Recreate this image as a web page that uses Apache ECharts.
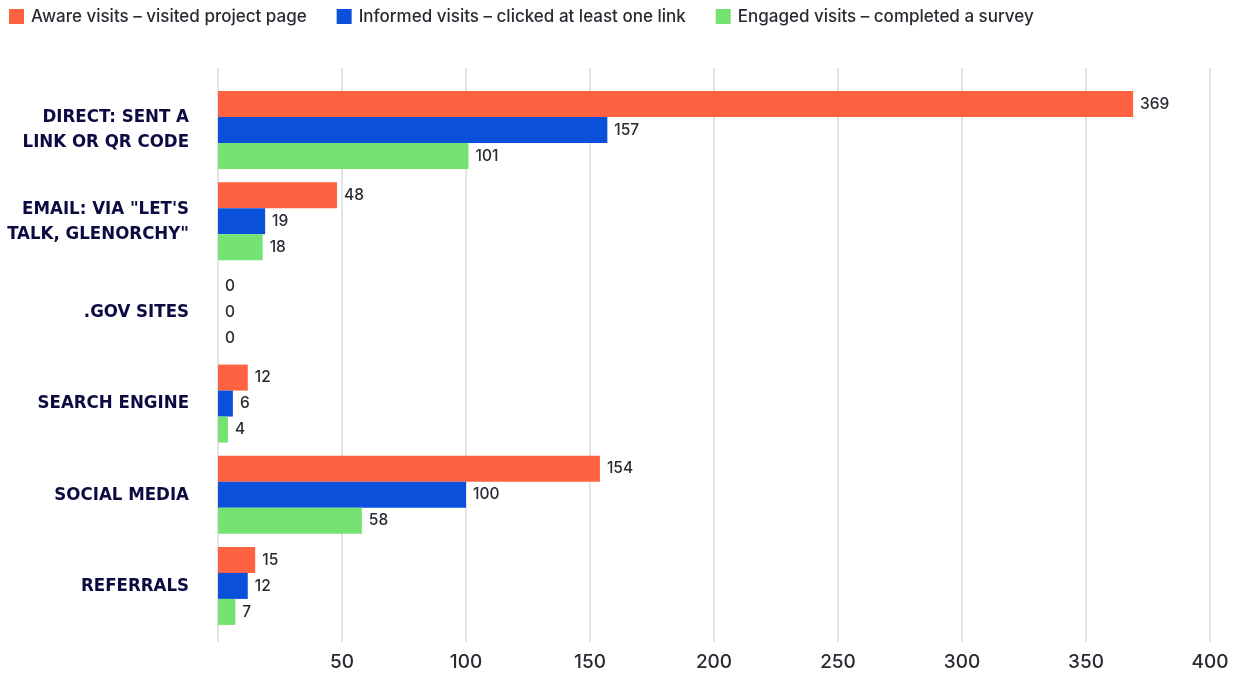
<!DOCTYPE html>
<html>
<head>
<meta charset="utf-8">
<script src="https://cdn.jsdelivr.net/npm/echarts@6/dist/echarts.min.js"></script>
<style>
  html, body { margin: 0; padding: 0; background: #ffffff; }
  #chart { width: 1236px; height: 675px; }
</style>
</head>
<body>
<div id="chart"></div>
<script>
// Traffic sources and the visits they produced
const categories = [
  'DIRECT: SENT A\nLINK OR QR CODE',
  'EMAIL: VIA "LET\'S\nTALK, GLENORCHY"',
  '.GOV SITES',
  'SEARCH ENGINE',
  'SOCIAL MEDIA',
  'REFERRALS'
];
const seriesNames = [
  'Aware visits – visited project page',
  'Informed visits – clicked at least one link',
  'Engaged visits – completed a survey'
];
const awareVisits = [369, 48, 0, 12, 154, 15];
const informedVisits = [157, 19, 0, 6, 100, 12];
const engagedVisits = [101, 18, 0, 4, 58, 7];
const xTicks = [0, 50, 100, 150, 200, 250, 300, 350, 400];

const colors = ['#FF6240', '#0A50DB', '#74E371'];
const textFont = 'Inter, Roboto, "Noto Sans", sans-serif';
const labelFont = '"DejaVu Sans Condensed", "Liberation Sans Narrow", sans-serif';

const chart = echarts.init(document.getElementById('chart'), null, { renderer: 'canvas' });

function barSeries(name, data, color) {
  return {
    name: name,
    type: 'bar',
    xAxisIndex: 1,
    yAxisIndex: 1,
    data: data,
    barWidth: 26,
    barGap: '0%',
    itemStyle: { color: color },
    label: {
      show: true,
      position: 'right',
      distance: 7,
      color: '#2a2a33',
      fontSize: 15.5,
      fontWeight: 500,
      fontFamily: textFont
    },
    emphasis: { disabled: true }
  };
}

chart.setOption({
  animation: false,
  color: colors,
  legend: {
    left: 9,
    top: 8,
    padding: 0,
    itemWidth: 15,
    itemHeight: 15,
    itemGap: 30,
    icon: 'rect',
    textStyle: {
      color: '#2a2a33',
      fontSize: 17,
      fontWeight: 500,
      fontFamily: textFont,
      padding: [0, 0, 0, 2]
    },
    data: seriesNames
  },
  grid: [
    // value gridlines and tick labels
    { left: 218, right: 26, top: 68, bottom: 33, outerBoundsMode: 'none' },
    // bars and category labels
    { left: 218, right: 26, top: 84.5, bottom: 43.5, outerBoundsMode: 'none' }
  ],
  xAxis: [
    {
      gridIndex: 0,
      type: 'value',
      min: xTicks[0],
      max: xTicks[xTicks.length - 1],
      interval: xTicks[1] - xTicks[0],
      axisLine: { show: false },
      axisTick: { show: false },
      splitLine: { show: true, lineStyle: { color: '#dedede', width: 1.6 } },
      axisLabel: {
        showMinLabel: false,
        margin: 11,
        color: '#2a2a33',
        fontSize: 19,
        fontWeight: 500,
        fontFamily: textFont
      }
    },
    {
      gridIndex: 1,
      type: 'value',
      min: xTicks[0],
      max: xTicks[xTicks.length - 1],
      show: false
    }
  ],
  yAxis: [
    { gridIndex: 0, type: 'value', show: false },
    {
      gridIndex: 1,
      type: 'category',
      inverse: true,
      data: categories,
      axisLine: { show: false },
      axisTick: { show: false },
      splitLine: { show: false },
      axisLabel: {
        margin: 29,
        color: '#0b0b42',
        fontSize: 18.5,
        fontWeight: 'bold',
        lineHeight: 25,
        align: 'right',
        fontFamily: labelFont
      }
    }
  ],
  series: [
    barSeries(seriesNames[0], awareVisits, colors[0]),
    barSeries(seriesNames[1], informedVisits, colors[1]),
    barSeries(seriesNames[2], engagedVisits, colors[2])
  ]
});
</script>
</body>
</html>
